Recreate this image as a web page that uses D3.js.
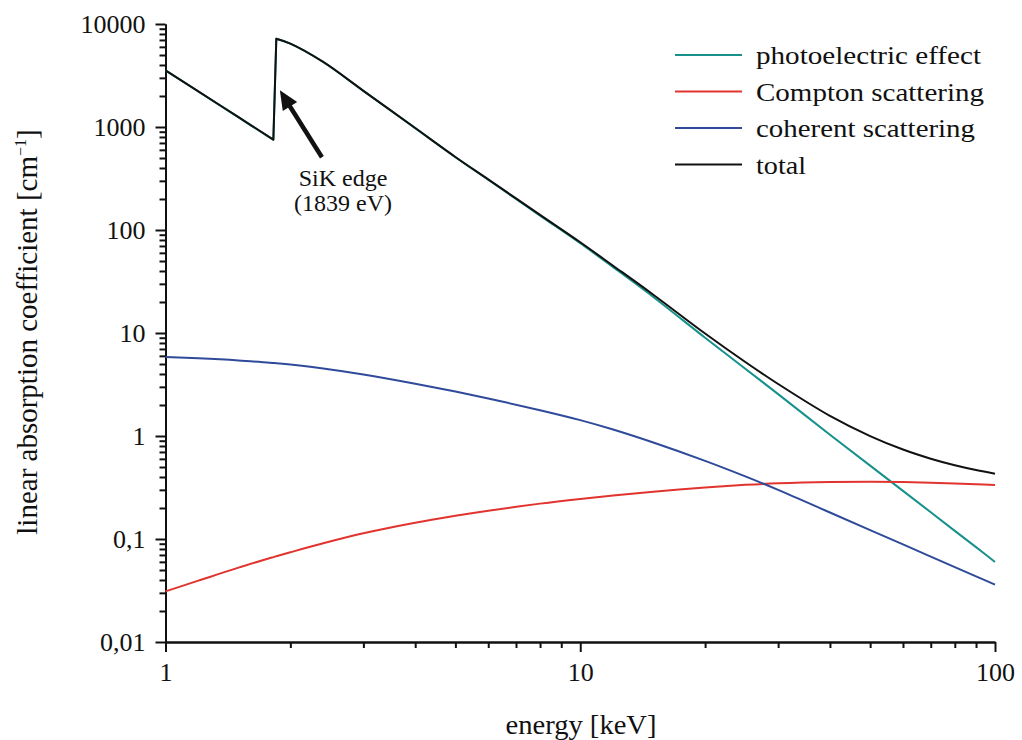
<!DOCTYPE html>
<html>
<head>
<meta charset="utf-8">
<script src="https://cdn.jsdelivr.net/npm/d3@7"></script>
<style>
  body { margin: 0; background: #fff; }
  svg text { font-family: "Liberation Serif", "Times New Roman", serif; fill: #111; }
  .axis path, .axis line { stroke: #111; stroke-width: 2; }
  .axis text { font-size: 26px; }
</style>
</head>
<body>
<div id="canvas"></div>
<script>
// energies in keV (shared by all series); the Si K edge sits between 1.82 and 1.85
var energies = [1, 1.2, 1.5, 1.82, 1.85, 2, 2.4, 3, 4, 5, 6, 8, 10, 12, 15, 20, 25, 30, 40, 50, 60, 70, 80, 90, 100];
var edgeIndex = 4;

// linear absorption coefficient [1/cm]
var photoelectric = [3544, 2212, 1240, 750, 7195, 6445, 4275, 2241, 974, 509, 307.5, 138, 74.3, 43.6, 22.4, 9.0, 4.5, 2.55, 1.03, 0.516, 0.293, 0.182, 0.120, 0.0834, 0.0598];
var compton = [0.031, 0.0394, 0.0527, 0.0667, 0.068, 0.0743, 0.0908, 0.1135, 0.1437, 0.168, 0.1882, 0.2205, 0.2449, 0.2644, 0.2878, 0.3165, 0.3354, 0.3472, 0.3573, 0.3597, 0.3571, 0.3522, 0.3466, 0.3405, 0.3341];
var coherent = [5.85, 5.69, 5.42, 5.11, 5.09, 4.94, 4.53, 3.96, 3.22, 2.70, 2.31, 1.78, 1.425, 1.155, 0.864, 0.573, 0.405, 0.300, 0.181, 0.122, 0.0886, 0.0675, 0.0534, 0.0434, 0.0361];
var total = [3550, 2218, 1246, 755, 7200, 6450, 4280, 2245, 977, 512, 310, 140, 76, 45, 23.55, 9.89, 5.23, 3.2, 1.568, 0.998, 0.739, 0.602, 0.52, 0.467, 0.43];

var seriesNames = ['photoelectric effect', 'Compton scattering', 'coherent scattering', 'total'];
var seriesColors = ['#16918b', '#e2342f', '#2f4a9a', '#111111'];
var hasEdge = [true, false, false, true];

var yTicks = [0.01, 0.1, 1, 10, 100, 1000, 10000];
var yTickLabels = ['0,01', '0,1', '1', '10', '100', '1000', '10000'];
var xTicks = [1, 10, 100];
var xTickLabels = ['1', '10', '100'];

var outerWidth = 1022, outerHeight = 740;
var m = {t:24, r:27, b:98, l:165.5};
var w = outerWidth - m.l - m.r,
    h = outerHeight - m.t - m.b;

var svg = d3.select('#canvas')
  .append('svg')
  .attr('width', outerWidth)
  .attr('height', outerHeight);

var plot = svg.append('g')
  .attr('transform', 'translate(' + m.l + ',' + m.t + ')');

var scaleX = d3.scaleLog().domain([1, 100]).range([0, w]);
var scaleY = d3.scaleLog().domain([0.01, 10000]).range([h, 0]);

// minor ticks (2..9 in every decade)
function minorTicks(lo, hi){
  var out = [];
  for (var d = lo; d < hi; d *= 10) {
    for (var k = 2; k <= 9; k++) out.push(d * k);
  }
  return out;
}

plot.append('g').attr('class', 'axis')
  .attr('transform', 'translate(0,' + h + ')')
  .call(d3.axisBottom(scaleX).tickValues(minorTicks(1, 100)).tickSize(6).tickSizeOuter(0).tickFormat(''));
plot.append('g').attr('class', 'axis')
  .attr('transform', 'translate(0,' + h + ')')
  .call(d3.axisBottom(scaleX).tickValues(xTicks).tickSize(10).tickSizeOuter(0).tickPadding(11)
    .tickFormat(function(d, i){ return xTickLabels[i]; }));

plot.append('g').attr('class', 'axis')
  .call(d3.axisLeft(scaleY).tickValues(minorTicks(0.01, 10000)).tickSize(6).tickSizeOuter(0).tickFormat(''));
plot.append('g').attr('class', 'axis')
  .call(d3.axisLeft(scaleY).tickValues(yTicks).tickSize(10).tickSizeOuter(0).tickPadding(10)
    .tickFormat(function(d, i){ return yTickLabels[i]; }));

// curves: smooth, but keep the absorption edge as a sharp straight jump
var line = d3.line()
  .x(function(d){ return scaleX(d.e); })
  .y(function(d){ return scaleY(d.v); })
  .curve(d3.curveCatmullRom.alpha(0.5));

var allSeries = [photoelectric, compton, coherent, total];
allSeries.forEach(function(vals, i){
  var pts = energies.map(function(e, j){ return {e: e, v: vals[j]}; });
  var d;
  if (hasEdge[i]) {
    d = line(pts.slice(0, edgeIndex)) + line(pts.slice(edgeIndex)).replace(/^M/, 'L');
  } else {
    d = line(pts);
  }
  plot.append('path')
    .attr('d', d)
    .attr('fill', 'none')
    .attr('stroke', seriesColors[i])
    .attr('stroke-width', 2)
    .attr('stroke-linejoin', 'round');
});

// annotation arrow pointing at the Si K edge
var arrowTail = {e: 2.383, v: 508},
    arrowTip = {e: 1.887, v: 2270};
var tx = scaleX(arrowTail.e), ty = scaleY(arrowTail.v),
    hx = scaleX(arrowTip.e), hy = scaleY(arrowTip.v);
var len = Math.sqrt((hx - tx) * (hx - tx) + (hy - ty) * (hy - ty)),
    ux = (hx - tx) / len, uy = (hy - ty) / len;
var headLen = 19, headHalf = 8.5;

plot.append('line')
  .attr('x1', tx).attr('y1', ty)
  .attr('x2', hx - ux * (headLen - 2)).attr('y2', hy - uy * (headLen - 2))
  .attr('stroke', '#111')
  .attr('stroke-width', 4.5);

plot.append('path')
  .attr('d', 'M' + hx + ',' + hy +
    'L' + (hx - ux * headLen - uy * headHalf) + ',' + (hy - uy * headLen + ux * headHalf) +
    'L' + (hx - ux * headLen + uy * headHalf) + ',' + (hy - uy * headLen - ux * headHalf) + 'Z')
  .attr('fill', '#111');

var note = svg.append('text')
  .attr('text-anchor', 'middle')
  .style('font-size', '24px');
note.append('tspan').attr('x', 343).attr('y', 186).text('SiK edge');
note.append('tspan').attr('x', 343).attr('y', 211).text('(1839 eV)');

// legend
var legendWidths = [225, 228, 219, 50];
var legend = svg.append('g').attr('transform', 'translate(675,55)');
seriesNames.forEach(function(name, i){
  var row = legend.append('g').attr('transform', 'translate(0,' + (i * 36.5) + ')');
  row.append('line')
    .attr('x1', 0).attr('x2', 67)
    .attr('stroke', seriesColors[i])
    .attr('stroke-width', 2);
  row.append('text')
    .attr('x', 81).attr('y', 9)
    .attr('textLength', legendWidths[i])
    .attr('lengthAdjust', 'spacingAndGlyphs')
    .style('font-size', '26px')
    .text(name);
});

// axis titles
svg.append('text')
  .attr('x', 581).attr('y', 734)
  .attr('text-anchor', 'middle')
  .attr('textLength', 151)
  .attr('lengthAdjust', 'spacingAndGlyphs')
  .style('font-size', '27px')
  .text('energy [keV]');

var yTitle = svg.append('text')
  .attr('transform', 'translate(37,332) rotate(-90)')
  .attr('text-anchor', 'middle')
  .style('font-size', '29px');
yTitle.append('tspan').text('linear absorption coefficient [cm');
yTitle.append('tspan').attr('dy', -11).style('font-size', '16px').text('\u22121');
yTitle.append('tspan').attr('dy', 11).text(']');
</script>
</body>
</html>
